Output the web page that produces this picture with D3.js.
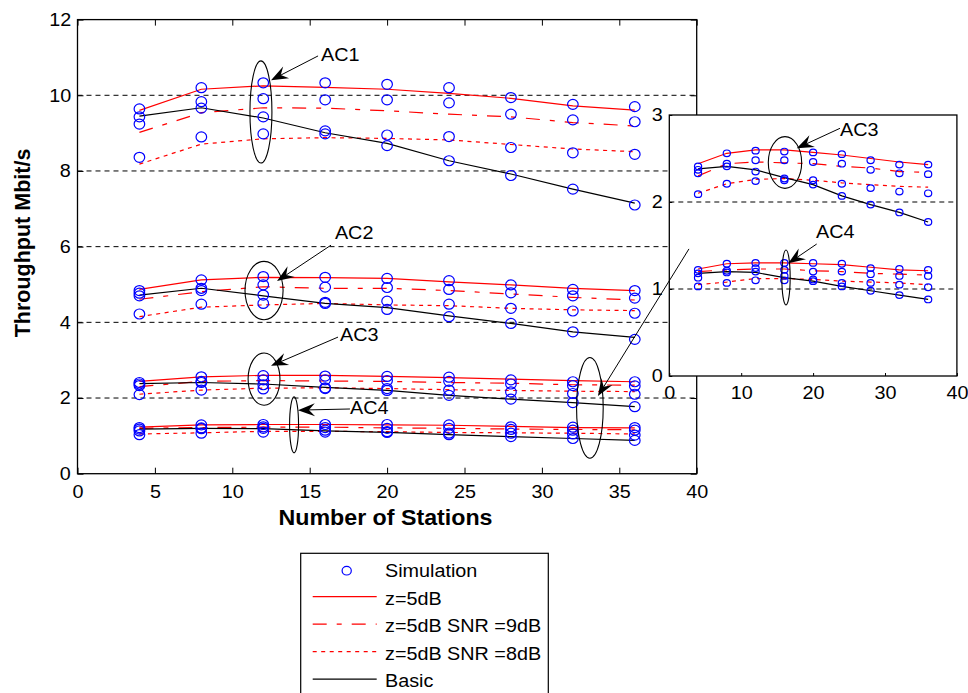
<!DOCTYPE html>
<html>
<head>
<meta charset="utf-8">
<script src="https://cdn.jsdelivr.net/npm/d3@7"></script>
<style>
  body { margin: 0; background: #fff; }
  svg text { font-family: "Liberation Sans", Arial, sans-serif; fill: #000; }
  text.sx  { transform-box: fill-box; transform-origin: center;      transform: scaleX(1.07); }
  text.sxl { transform-box: fill-box; transform-origin: left center; transform: scaleX(1.07); }
  text.sxb { transform-box: fill-box; transform-origin: center;      transform: scaleX(1.08); }
</style>
</head>
<body>
<svg id="chart" width="968" height="693"></svg>
<script>
// ---------------- data ----------------
const stations = [4, 8, 12, 16, 20, 24, 28, 32, 36];
const xTicks = [0, 5, 10, 15, 20, 25, 30, 35, 40];
const yTicks = [0, 2, 4, 6, 8, 10, 12];
const gridValues = [2, 4, 6, 8, 10];
const insetXTicks = [0, 10, 20, 30, 40];
const insetYTicks = [0, 1, 2, 3];
const insetGridValues = [1, 2];
const legendLabels = ["Simulation", "z=5dB", "z=5dB SNR =9dB", "z=5dB SNR =8dB", "Basic"];

// analytical throughput (Mbit/s)
const ac1Z5    = [9.60, 10.16, 10.25, 10.21, 10.16, 10.05, 9.92, 9.72, 9.61];
const ac1Snr9  = [9.02, 9.54, 9.67, 9.66, 9.59, 9.50, 9.43, 9.28, 9.19];
const ac1Snr8  = [8.18, 8.71, 8.85, 8.88, 8.86, 8.82, 8.70, 8.58, 8.51];
const ac1Basic = [9.45, 9.67, 9.40, 9.01, 8.73, 8.27, 7.92, 7.52, 7.15];

const ac2Z5    = [4.87, 5.12, 5.19, 5.18, 5.16, 5.07, 4.99, 4.90, 4.84];
const ac2Snr9  = [4.61, 4.81, 4.94, 4.90, 4.90, 4.84, 4.75, 4.66, 4.59];
const ac2Snr8  = [4.15, 4.40, 4.46, 4.50, 4.46, 4.44, 4.37, 4.33, 4.31];
const ac2Basic = [4.72, 4.90, 4.70, 4.50, 4.39, 4.17, 3.97, 3.75, 3.60];

const ac3Z5    = [2.44, 2.56, 2.60, 2.60, 2.57, 2.54, 2.50, 2.46, 2.43];
const ac3Snr9  = [2.30, 2.44, 2.46, 2.45, 2.44, 2.41, 2.39, 2.35, 2.34];
const ac3Snr8  = [2.10, 2.21, 2.26, 2.27, 2.25, 2.22, 2.20, 2.18, 2.17];
const ac3Basic = [2.38, 2.41, 2.37, 2.28, 2.20, 2.07, 1.97, 1.88, 1.77];

const ac4Z5    = [1.23, 1.29, 1.30, 1.30, 1.29, 1.28, 1.25, 1.22, 1.21];
const ac4Snr9  = [1.20, 1.22, 1.23, 1.23, 1.21, 1.20, 1.18, 1.17, 1.16];
const ac4Snr8  = [1.05, 1.08, 1.12, 1.12, 1.11, 1.09, 1.08, 1.07, 1.05];
const ac4Basic = [1.18, 1.20, 1.19, 1.13, 1.09, 1.03, 0.98, 0.93, 0.88];

// simulation results (Mbit/s)
const ac1SimZ5    = [9.64, 10.20, 10.33, 10.33, 10.29, 10.20, 9.94, 9.76, 9.70];
const ac1SimSnr9  = [9.24, 9.83, 9.91, 9.88, 9.88, 9.80, 9.50, 9.35, 9.30];
const ac1SimSnr8  = [8.36, 8.90, 8.98, 8.98, 8.95, 8.91, 8.62, 8.48, 8.44];
const ac1SimBasic = [9.43, 9.66, 9.43, 9.06, 8.67, 8.27, 7.88, 7.52, 7.10];

const ac2SimZ5    = [4.84, 5.12, 5.21, 5.19, 5.16, 5.10, 4.99, 4.87, 4.84];
const ac2SimSnr9  = [4.70, 4.84, 4.99, 4.93, 4.92, 4.87, 4.78, 4.70, 4.64];
const ac2SimSnr8  = [4.22, 4.48, 4.50, 4.53, 4.56, 4.48, 4.37, 4.30, 4.24];
const ac2SimBasic = [4.77, 4.90, 4.72, 4.50, 4.34, 4.15, 3.97, 3.75, 3.55];

const ac3SimZ5    = [2.41, 2.56, 2.59, 2.58, 2.57, 2.55, 2.48, 2.43, 2.43];
const ac3SimSnr9  = [2.33, 2.44, 2.48, 2.48, 2.46, 2.44, 2.37, 2.33, 2.32];
const ac3SimSnr8  = [2.09, 2.21, 2.24, 2.25, 2.25, 2.21, 2.16, 2.12, 2.10];
const ac3SimBasic = [2.37, 2.41, 2.35, 2.27, 2.20, 2.07, 1.97, 1.88, 1.77];

const ac4SimZ5    = [1.22, 1.29, 1.30, 1.30, 1.30, 1.29, 1.24, 1.23, 1.22];
const ac4SimSnr9  = [1.13, 1.21, 1.24, 1.22, 1.20, 1.20, 1.17, 1.15, 1.15];
const ac4SimSnr8  = [1.03, 1.07, 1.10, 1.10, 1.11, 1.07, 1.07, 1.05, 1.02];
const ac4SimBasic = [1.18, 1.19, 1.20, 1.15, 1.09, 1.03, 0.98, 0.93, 0.88];

const groups = [
  { name: "AC1", curves: [ac1Z5, ac1Snr9, ac1Snr8, ac1Basic], sims: [ac1SimZ5, ac1SimSnr9, ac1SimSnr8, ac1SimBasic] },
  { name: "AC2", curves: [ac2Z5, ac2Snr9, ac2Snr8, ac2Basic], sims: [ac2SimZ5, ac2SimSnr9, ac2SimSnr8, ac2SimBasic] },
  { name: "AC3", curves: [ac3Z5, ac3Snr9, ac3Snr8, ac3Basic], sims: [ac3SimZ5, ac3SimSnr9, ac3SimSnr8, ac3SimBasic] },
  { name: "AC4", curves: [ac4Z5, ac4Snr9, ac4Snr8, ac4Basic], sims: [ac4SimZ5, ac4SimSnr9, ac4SimSnr8, ac4SimBasic] }
];
const insetGroups = groups.filter(g => g.name === "AC3" || g.name === "AC4");

// ---------------- styles ----------------
const RED = "#ff0000", BLUE = "#0000ff", INK = "#000000";
const curveStyles = [
  { stroke: RED, dash: null },
  { stroke: RED, dash: "14,10,5,10" },
  { stroke: RED, dash: "4,4.5" },
  { stroke: INK, dash: null }
];
const FONT = 18.5;

// ---------------- layout ----------------
const svg = d3.select("#chart");
const x = d3.scaleLinear().domain([0, 40]).range([77.5, 696.7]);
const y = d3.scaleLinear().domain([0, 12]).range([473.7, 19.6]);
const xi = d3.scaleLinear().domain([0, 40]).range([669.3, 956.9]);
const yi = d3.scaleLinear().domain([0, 3]).range([376, 115]);

function drawSeries(g, sx, sy, list, rx, ry, sw) {
  const line = d3.line().x((d, j) => sx(stations[j])).y(d => sy(d));
  list.forEach(grp => {
    grp.curves.forEach((vals, i) => {
      g.append("path").attr("d", line(vals))
        .attr("fill", "none").attr("stroke", curveStyles[i].stroke)
        .attr("stroke-width", 1.2)
        .attr("stroke-dasharray", curveStyles[i].dash);
    });
  });
  list.forEach(grp => {
    grp.sims.forEach(vals => {
      g.selectAll(null).data(vals).enter().append("ellipse")
        .attr("cx", (d, j) => sx(stations[j])).attr("cy", d => sy(d))
        .attr("rx", rx).attr("ry", ry)
        .attr("fill", "none").attr("stroke", BLUE).attr("stroke-width", sw);
    });
  });
}

function arrow(g, x1, y1, x2, y2) {
  const dx = x2 - x1, dy = y2 - y1, L = Math.hypot(dx, dy);
  const ux = dx / L, uy = dy / L, nx = -uy, ny = ux;
  const len = 17, half = 6.5, notch = 11;
  g.append("line").attr("x1", x1).attr("y1", y1)
    .attr("x2", x2 - notch * ux).attr("y2", y2 - notch * uy)
    .attr("stroke", INK).attr("stroke-width", 1);
  const pts = [
    [x2, y2],
    [x2 - len * ux + half * nx, y2 - len * uy + half * ny],
    [x2 - notch * ux, y2 - notch * uy],
    [x2 - len * ux - half * nx, y2 - len * uy - half * ny]
  ];
  g.append("polygon").attr("points", pts.map(p => p.join(",")).join(" ")).attr("fill", INK);
}

function ring(g, sx, sy, cx, cy, rx, ry) {
  g.append("ellipse")
    .attr("cx", sx(cx)).attr("cy", sy(cy))
    .attr("rx", Math.abs(sx(cx + rx) - sx(cx))).attr("ry", Math.abs(sy(cy + ry) - sy(cy)))
    .attr("fill", "none").attr("stroke", INK).attr("stroke-width", 1.1);
}

function label(g, px, py, txt) {
  g.append("text").attr("class", "sxl").attr("x", px).attr("y", py).attr("dy", "0.35em")
    .attr("font-size", FONT).text(txt);
}

// ---------------- main axes ----------------
const main = svg.append("g");

main.selectAll(null).data(gridValues).enter().append("line")
  .attr("x1", x(0)).attr("x2", x(40)).attr("y1", d => y(d)).attr("y2", d => y(d))
  .attr("stroke", INK).attr("stroke-width", 1).attr("stroke-dasharray", "5,4");

drawSeries(main, x, y, groups, 5.3, 5.0, 1.2);

function styleAxis(a, padFont) {
  a.select(".domain").remove();
  a.selectAll(".tick line").attr("stroke", INK).attr("stroke-width", 1);
  a.selectAll("text").attr("font-size", FONT).attr("font-family", null).attr("class", "sx");
}
const axB = main.append("g").attr("transform", `translate(0,${y(0)})`)
  .call(d3.axisBottom(x).tickValues(xTicks).tickSize(-6).tickPadding(11).tickFormat(d3.format("d")));
styleAxis(axB);
const axT = main.append("g").attr("transform", `translate(0,${y(12)})`)
  .call(d3.axisTop(x).tickValues(xTicks).tickSize(-6).tickFormat(""));
styleAxis(axT);
const axL = main.append("g").attr("transform", `translate(${x(0)},0)`)
  .call(d3.axisLeft(y).tickValues(yTicks).tickSize(-6).tickPadding(7).tickFormat(d3.format("d")));
styleAxis(axL);
const axR = main.append("g").attr("transform", `translate(${x(40)},0)`)
  .call(d3.axisRight(y).tickValues(yTicks).tickSize(-6).tickFormat(""));
styleAxis(axR);

main.append("rect").attr("x", x(0)).attr("y", y(12))
  .attr("width", x(40) - x(0)).attr("height", y(0) - y(12))
  .attr("fill", "none").attr("stroke", INK).attr("stroke-width", 1.3);

// annotations in the main axes (data units)
const ann = main.append("g");
ring(ann, x, y, 11.85, 9.56, 0.71, 1.35);
arrow(ann, x(15.54), y(11.04), x(12.5), y(10.40));
label(ann, x(15.73), y(11.07), "AC1");

ring(ann, x, y, 12.05, 4.84, 1.23, 0.77);
arrow(ann, x(16.38), y(6.04), x(12.89), y(5.09));
label(ann, x(16.63), y(6.36), "AC2");

ring(ann, x, y, 12.05, 2.50, 1.03, 0.69);
arrow(ann, x(16.83), y(3.61), x(12.5), y(2.85));
label(ann, x(16.96), y(3.67), "AC3");

ring(ann, x, y, 13.99, 1.29, 0.29, 0.74);
arrow(ann, x(17.6), y(1.71), x(14.24), y(1.68));
label(ann, x(17.6), y(1.74), "AC4");

ring(ann, x, y, 33.1, 1.74, 0.86, 1.33);

// axis titles
svg.append("text").attr("class", "sxb").attr("x", 385.5).attr("y", 525)
  .attr("text-anchor", "middle").attr("font-size", 21.5).attr("font-weight", "bold")
  .text("Number of Stations");
svg.append("text").attr("transform", "translate(30,243) rotate(-90)")
  .attr("text-anchor", "middle").attr("font-size", 21.5).attr("font-weight", "bold")
  .text("Throughput Mbit/s");

// ---------------- inset axes (AC3 / AC4 close-up) ----------------
const inset = svg.append("g");
inset.append("rect").attr("x", xi(0)).attr("y", yi(3))
  .attr("width", xi(40) - xi(0)).attr("height", yi(0) - yi(3)).attr("fill", "#fff");

inset.selectAll(null).data(insetGridValues).enter().append("line")
  .attr("x1", xi(0)).attr("x2", xi(40)).attr("y1", d => yi(d)).attr("y2", d => yi(d))
  .attr("stroke", INK).attr("stroke-width", 1).attr("stroke-dasharray", "5,4");

drawSeries(inset, xi, yi, insetGroups, 3.6, 3.3, 1.2);

const iB = inset.append("g").attr("transform", `translate(0,${yi(0)})`)
  .call(d3.axisBottom(xi).tickValues(insetXTicks).tickSize(-3).tickPadding(10).tickFormat(d3.format("d")));
styleAxis(iB);
const iL = inset.append("g").attr("transform", `translate(${xi(0)},0)`)
  .call(d3.axisLeft(yi).tickValues(insetYTicks).tickSize(-3).tickPadding(7).tickFormat(d3.format("d")));
styleAxis(iL);

inset.append("rect").attr("x", xi(0)).attr("y", yi(3))
  .attr("width", xi(40) - xi(0)).attr("height", yi(0) - yi(3))
  .attr("fill", "none").attr("stroke", INK).attr("stroke-width", 1.3);

const iann = inset.append("g");
ring(iann, xi, yi, 16.09, 2.454, 2.32, 0.297);
arrow(iann, xi(23.74), yi(2.847), xi(17.72), yi(2.617));
label(iann, xi(23.74), yi(2.83), "AC3");

ring(iann, xi, yi, 16.23, 1.132, 0.58, 0.316);
arrow(iann, xi(20.5), yi(1.517), xi(16.55), yi(1.295));
label(iann, xi(20.4), yi(1.655), "AC4");

// pointer from the close-up back to the zoomed region
arrow(svg, x(39.5), y(5.94), x(33.62), y(2.05));

// ---------------- legend ----------------
const legend = svg.append("g").attr("transform", "translate(300.7,553.3)");
legend.append("rect").attr("x", 0).attr("y", 0).attr("width", 247.6).attr("height", 200)
  .attr("fill", "#fff").attr("stroke", INK).attr("stroke-width", 1.2);
const rowY = d3.scaleLinear().domain([0, 4]).range([17.4, 127.4]);
legendLabels.forEach((lab, i) => {
  const yy = rowY(i);
  if (i === 0) {
    legend.append("ellipse").attr("cx", 46).attr("cy", yy).attr("rx", 4.6).attr("ry", 4.3)
      .attr("fill", "none").attr("stroke", BLUE).attr("stroke-width", 1.2);
  } else {
    const st = curveStyles[i - 1];
    legend.append("line").attr("x1", 12).attr("x2", 76).attr("y1", yy - 1.5).attr("y2", yy - 1.5)
      .attr("stroke", st.stroke).attr("stroke-width", 1.2).attr("stroke-dasharray", st.dash);
  }
  legend.append("text").attr("class", "sxl").attr("x", 84.3).attr("y", yy).attr("dy", "0.35em")
    .attr("font-size", FONT).text(lab);
});
</script>
</body>
</html>
